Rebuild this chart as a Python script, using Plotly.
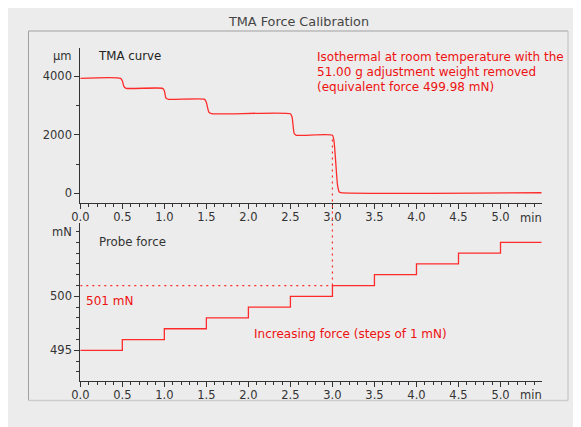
import plotly.graph_objects as go

# ---------------- data ----------------
tma_time = [0.00, 0.48, 0.50, 0.52, 0.545, 0.98, 1.00, 1.02, 1.05, 1.48, 1.50, 1.53, 1.56,
            2.50, 2.52, 2.545, 2.57, 3.00, 3.02, 3.06, 3.08, 3.10, 5.49]
tma_um = [3925, 3925, 3840, 3640, 3584, 3584, 3500, 3250, 3208, 3208, 3100, 2770, 2717,
          2717, 2600, 2040, 1980, 1980, 1750, 300, 50, 20, 20]

force_time = [0.0, 0.5, 1.0, 1.5, 2.0, 2.5, 3.0, 3.5, 4.0, 4.5, 5.0, 5.49]
force_mN = [495, 496, 497, 498, 499, 500, 501, 502, 503, 504, 505, 505]

marker_time = 3.0
marker_force = 501
marker_um = 1960

x_ticks = [0.0, 0.5, 1.0, 1.5, 2.0, 2.5, 3.0, 3.5, 4.0, 4.5, 5.0]
top_yticks = [0, 2000, 4000]
bot_yticks = [495, 500]

# ---------------- layout helpers ----------------
W, H = 581, 427
OFF = 8  # page body margin in front of the figure

def X(p):
    return (p - OFF) / W

def Y(p):
    return 1 - (p - OFF) / H

BG = "#ececec"
RED = "#ff2a2a"
TRED = "#ee1111"
DARK = "#333333"
FONT = "DejaVu Sans, Verdana, sans-serif"
FS = 11.5

x_dom = [X(80.3), X(541.7)]
x_rng = [0, 5.49]
top_dom = [Y(202.7), Y(48.3)]
top_rng = [-320, 4950]
bot_dom = [Y(380.7), Y(223.3)]
bot_rng = [492.19, 506.76]

def to_paper(v, dom, rng):
    return dom[0] + (v - rng[0]) / (rng[1] - rng[0]) * (dom[1] - dom[0])

fig = go.Figure()
fig.add_trace(go.Scatter(x=tma_time, y=tma_um, mode="lines",
                         line=dict(color=RED, width=1.3, shape="spline", smoothing=0.5),
                         xaxis="x", yaxis="y", hoverinfo="skip", showlegend=False))
fig.add_trace(go.Scatter(x=force_time, y=force_mN, mode="lines",
                         line=dict(color=RED, width=1.3, shape="hv"),
                         xaxis="x2", yaxis="y2", hoverinfo="skip", showlegend=False))

axis_common = dict(showline=True, linecolor=DARK, linewidth=1, ticks="outside",
                   ticklen=5, tickcolor=DARK, tickwidth=1, showgrid=False, zeroline=False,
                   automargin=False,
                   tickfont=dict(family=FONT, size=FS, color=DARK))

fig.update_layout(
    width=W, height=H,
    margin=dict(l=0, r=0, t=0, b=0, autoexpand=False),
    paper_bgcolor=BG,
    plot_bgcolor="rgba(0,0,0,0)",
    showlegend=False,
    xaxis=dict(domain=x_dom, range=x_rng, anchor="y", tickmode="array", tickvals=x_ticks,
               ticktext=[f"{v:.1f}" for v in x_ticks], ticklabelstandoff=-2,
               minor=dict(ticks="outside", ticklen=3, dtick=0.1, tick0=0, tickcolor=DARK),
               **axis_common),
    yaxis=dict(domain=top_dom, range=top_rng, anchor="x", tickmode="array",
               tickvals=top_yticks, ticktext=[str(v) for v in top_yticks],
               minor=dict(ticks="outside", ticklen=3, dtick=1000, tick0=0, tickcolor=DARK),
               **axis_common),
    xaxis2=dict(domain=x_dom, range=x_rng, anchor="y2", tickmode="array", tickvals=x_ticks,
                ticktext=[f"{v:.1f}" for v in x_ticks], ticklabelstandoff=-2,
                minor=dict(ticks="outside", ticklen=3, dtick=0.1, tick0=0, tickcolor=DARK),
                **axis_common),
    yaxis2=dict(domain=bot_dom, range=bot_rng, anchor="x2", tickmode="array",
                tickvals=bot_yticks, ticktext=[str(v) for v in bot_yticks],
                minor=dict(ticks="outside", ticklen=3, dtick=1, tick0=0, tickcolor=DARK),
                **axis_common),
)

shapes = [
    # framed panel: darker top/left edges, lighter bottom/right edges
    dict(type="line", xref="paper", yref="paper", x0=X(28.5), x1=X(568), y0=Y(31), y1=Y(31),
         line=dict(color="#a0a0a0", width=1), layer="below"),
    dict(type="line", xref="paper", yref="paper", x0=X(28.5), x1=X(28.5), y0=Y(31), y1=Y(400.5),
         line=dict(color="#a0a0a0", width=1), layer="below"),
    dict(type="line", xref="paper", yref="paper", x0=X(28.5), x1=X(568), y0=Y(400.5), y1=Y(400.5),
         line=dict(color="#cdcdcd", width=1.5), layer="below"),
    dict(type="line", xref="paper", yref="paper", x0=X(568), x1=X(568), y0=Y(31), y1=Y(400.5),
         line=dict(color="#cdcdcd", width=1.5), layer="below"),
    # dotted guide lines
    dict(type="line", xref="x2", yref="y2", x0=0, x1=marker_time, y0=marker_force, y1=marker_force,
         line=dict(color=RED, width=1.2, dash="2px,4px")),
    dict(type="line", xref="x", yref="paper", x0=marker_time, x1=marker_time,
         y0=to_paper(marker_force, bot_dom, bot_rng), y1=to_paper(marker_um, top_dom, top_rng),
         line=dict(color=RED, width=1.2, dash="2px,4px")),
]
fig.update_layout(shapes=shapes)

def note(text, x, y, xanchor="left", color=DARK, size=FS):
    fig.add_annotation(text=text, xref="paper", yref="paper", x=X(x), y=Y(y),
                       xanchor=xanchor, yanchor="middle", showarrow=False,
                       font=dict(family=FONT, size=size, color=color))

note("TMA Force Calibration", 298, 21, xanchor="center", color="#444444", size=12.8)
note("µm", 74, 56, xanchor="right")
note("TMA curve", 96, 56, color="#222222", size=11.8)
note("Isothermal at room temperature with the", 314.5, 57, color=TRED, size=12)
note("51.00 g adjustment weight removed", 314.5, 72, color=TRED, size=12)
note("(equivalent force 499.98 mN)", 314.5, 87, color=TRED, size=12)
note("min", 530.7, 217.5, xanchor="center")
note("mN", 74, 232, xanchor="right")
note("Probe force", 97, 242, size=11.8)
note("501 mN", 83.5, 300.5, color=TRED, size=12)
note("Increasing force (steps of 1 mN)", 252, 333.7, color=TRED, size=12)
note("min", 530.7, 394.5, xanchor="center")

fig.write_html("out.html")
